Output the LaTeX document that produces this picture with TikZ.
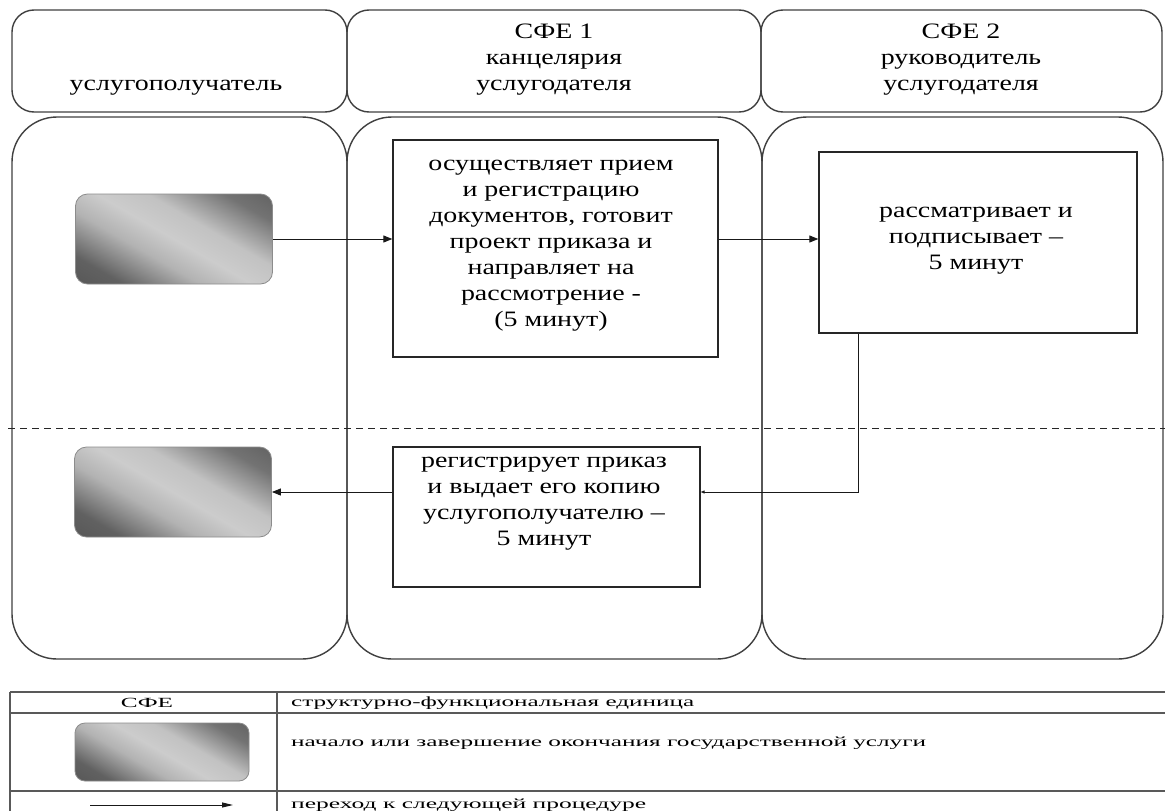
\documentclass[tikz,border=0pt]{standalone}
\usepackage{fontspec}
\setmainfont{Liberation Serif}[FakeStretch=1.27]
\newfontfamily\legfont{Liberation Serif}[FakeStretch=1.8]
\usetikzlibrary{arrows.meta}
\pgfdeclarehorizontalshading{termshade}{100bp}{color(0bp)=(black!72); color(25bp)=(black!62); color(40bp)=(black!30); color(50bp)=(black!20); color(60bp)=(black!24); color(75bp)=(black!55); color(100bp)=(black!72)}
\begin{document}
\begin{tikzpicture}[x=1pt,y=-1pt,
  lane/.style={draw=black!75, line width=1.4pt, rounded corners=45pt},
  head/.style={draw=black!75, line width=1.4pt, rounded corners=22pt},
  stepbox/.style={draw=black!85, line width=1.3pt, fill=white, inner sep=0pt},
  term/.style={draw=black!45, line width=0.8pt, rounded corners=12pt, shading=termshade, shading angle=60, inner sep=0pt},
  txt/.style={align=center, font=\fontsize{22}{26}\selectfont, inner sep=0pt},
  arr/.style={-{Triangle[length=9pt,width=7pt]}, line width=0.9pt, draw=black!90},
  arrsmall/.style={-{Triangle[length=4pt,width=3pt]}, line width=0.9pt, draw=black!90},
  legline/.style={draw=black!65, line width=1.3pt},
  leg/.style={font=\legfont\fontsize{14}{16}\selectfont, inner sep=0pt},
]
\clip (0,0) rectangle (1165,811);
\fill[white] (0,0) rectangle (1165,811);

% header boxes
\draw[head] (12,10) rectangle (347,112);
\draw[head] (347,10) rectangle (761,112);
\draw[head] (761,10) rectangle (1162,112);
\node[txt, anchor=base] (h1) at (176,90) {услугополучатель};
\node[txt] (h2) at (554,60) {СФЕ 1\\канцелярия\\услугодателя};
\node[txt] (h3) at (961,60) {СФЕ 2\\руководитель\\услугодателя};

% lanes
\draw[lane] (12,117) rectangle (347,659);
\draw[lane] (347,117) rectangle (762,659);
\draw[lane] (762,117) rectangle (1163,659);

% dashed separator
\draw[dashed, dash pattern=on 7pt off 5pt, line width=1pt, black!85] (8,428) -- (1165,428);

% step boxes
\node[term, minimum width=197pt, minimum height=90pt] (g1) at (174,239) {};
\node[stepbox, minimum width=325pt, minimum height=217pt] (b1) at (555.5,248.5) {};
\node[txt] (t1) at (551,246) {осуществляет прием\\и регистрацию\\документов, готовит\\проект приказа и\\направляет на\\рассмотрение -\\(5 минут)};
\node[stepbox, minimum width=318pt, minimum height=181pt] (b2) at (978,242.5) {};
\node[txt] (t2) at (976,241) {рассматривает и\\подписывает --\\5 минут};
\node[term, minimum width=197pt, minimum height=90pt] (g2) at (173,492) {};
\node[stepbox, minimum width=307pt, minimum height=140pt] (b3) at (546.5,517) {};
\node[txt] (t3) at (544,504) {регистрирует приказ\\и выдает его копию\\услугополучателю --\\5 минут};

% connectors
\draw[arr] (g1.east) -- (g1.east -| b1.west);
\draw[arr] (b1.east |- g1.east) -- (g1.east -| b2.west);
\draw[arrsmall] ([xshift=-120pt]b2.south) |- (b3.east |- g2.east);
\draw[arr] (b3.west |- g2.east) -- (g2.east);

% legend
\draw[legline] (10,692) -- (1170,692);
\draw[legline] (10,713) -- (1170,713);
\draw[legline] (10,791) -- (1170,791);
\draw[legline] (10,692) -- (10,820);
\draw[legline] (277,692) -- (277,820);
\node[leg] (l1) at (147,703) {СФЕ};
\node[leg, anchor=west] (l2) at (291,703) {\resizebox{403pt}{\height}{структурно-функциональная единица}};
\node[term, minimum width=174pt, minimum height=58pt, rounded corners=10pt] (lg) at (162,752) {};
\node[leg, anchor=west] (l3) at (291,743) {\resizebox{635pt}{\height}{начало или завершение окончания государственной услуги}};
\coordinate (la1) at (90,805);
\coordinate (la2) at (233,805);
\draw[arr, -{Triangle[length=11pt,width=5pt]}] (la1) -- (la2);
\node[leg, anchor=west] (l4) at (291,805) {\resizebox{355pt}{\height}{переход к следующей процедуре}};
\end{tikzpicture}
\end{document}
